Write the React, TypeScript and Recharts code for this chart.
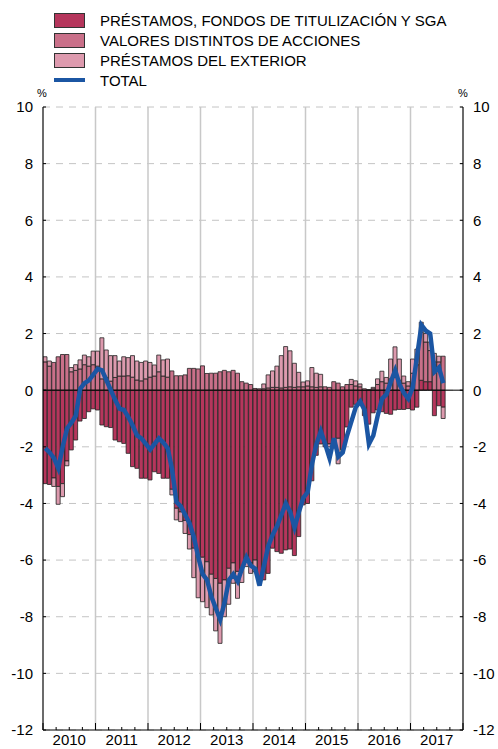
import React from 'react';
import {
  ComposedChart,
  Bar,
  Line,
  XAxis,
  YAxis,
  CartesianGrid,
  ReferenceLine
} from 'recharts';

// Tasas de variación interanual, enero 2010 - agosto 2017 (mensual)
const years = ['2010', '2011', '2012', '2013', '2014', '2015', '2016', '2017'];
const yTicks = [-12, -10, -8, -6, -4, -2, 0, 2, 4, 6, 8, 10];

const prestamos = [
  -3.3, -3.33, -3.1, -3.4, -3.3, -2.5, -2.11, -1.76, -1.09, -1.0, -0.76, -0.66,
  -0.7, -1.23, -1.29, -1.32, -1.76, -1.82, -1.88, -2.23, -2.7, -2.76, -3.11, -3.11,
  -3.17, -2.88, -2.94, -3.11, -3.11, -3.5, -4.17, -4.3, -4.6, -5.1, -5.58, -5.81,
  -5.9, -6.06, -6.5, -6.65, -6.82, -6.7, -6.29, -6.1, -6.4, -6.3, -5.9, -6.1,
  -6.0, -6.7, -6.7, -6.47, -5.58, -5.7, -5.76, -5.64, -5.61, -5.84, -5.17, -4.05,
  -4.0, -3.2, -2.3, -1.9, -2.0, -1.9, -1.8, -1.7, -2.1, -1.3, -0.6, -0.5,
  -0.4, -0.9, -1.2, -0.8, -0.7, -0.76, -0.82, -0.85, -0.7, -0.68, -0.68, -0.65,
  -0.7, -0.6, 0.35, 0.3, 0.3, -0.9, -0.55, -0.6
];

const valores = [
  1.0, 0.85, 0.98, 1.18, 1.26, 1.26, 0.65, 0.7, 0.75, 0.9, 0.85, 0.9,
  0.85, 0.4, 0.45, 0.32, 0.45, 0.5, 0.5, 0.51, 0.46, 0.36, 0.33, 0.4,
  0.46, 0.5, 0.65, 0.5, 0.46, 0.68, 0.51, 0.51, 0.54, 0.77, 0.77, 0.75,
  0.86, 0.59, 0.6, 0.6, 0.65, 0.7, 0.65, 0.7, 0.6, 0.3, 0.25, 0.2,
  0.06, 0.05, 0.05, 0.08, 0.1, 0.1, 0.08, 0.1, 0.12, 0.1, 0.12, 0.12,
  0.15, 0.12, 0.1, 0.12, 0.12, 0.1, 0.3, 0.25, 0.12, 0.2, 0.2, 0.15,
  0.12, 0.05, 0.02, 0.05, 0.2, 0.3, 0.25, 0.4, 0.45, 0.35, 0.25, 0.15,
  0.6, 0.9, 1.7, 1.4, 1.1, 1.0, 1.0, 1.2
];

const exterior = [
  0.18, 0.18, -0.3, -0.63, -0.46, -0.17, 0.15, 0.2, 0.32, 0.34, 0.33, 0.48,
  0.53, 1.45, 0.97, 0.9, 0.77, 0.53, 0.68, 0.64, 0.76, 0.67, 0.65, 0.63,
  0.52, 0.39, 0.59, 0.57, 0.64, -0.2, -0.41, -0.34, -0.46, -0.51, -1.04, -1.52,
  -1.57, -1.62, -1.44, -1.85, -2.12, -1.3, -1.27, -0.72, -0.95, -0.49, -0.33, -0.37,
  -0.41, -0.17, 0.17, 0.46, 0.58, 0.75, 1.14, 1.44, 1.27, 0.85, 0.51, 0.17,
  0.18, 0.68, 0.5, 0.44, 0, -0.1, -0.2, -0.9, 0, 0, 0.18, 0.18,
  0.1, 0, 0, 0.05, 0.2, 0.37, 0.2, 0.7, 1.08, 0.75, 0.25, 0.15,
  0.5, 0.55, 0.35, 0.3, 0.3, 0.3, 0.2, -0.4
];

const total = [
  -2.05, -2.2, -2.4, -2.76, -2.0, -1.35, -1.15, -0.9, 0.05, 0.25, 0.35, 0.55,
  0.75, 0.7, 0.35, 0.0, -0.35, -0.65, -0.7, -0.95, -1.25, -1.6, -1.7, -1.9,
  -2.1, -1.9, -1.7, -1.85, -2.05, -2.8, -3.95, -4.1, -4.4, -4.7, -5.2, -5.9,
  -6.5, -6.7, -7.3, -7.7, -8.1, -7.5, -6.7, -6.5, -6.75, -6.3, -5.9, -6.2,
  -6.3, -6.9, -6.2, -5.5, -5.1, -4.8, -4.4, -4.0, -4.3, -4.85, -4.3, -3.8,
  -3.6, -2.6, -1.9, -1.45, -1.9, -2.4, -1.7, -2.35, -2.2, -1.6, -1.1, -0.6,
  -0.4, -0.7, -1.9, -1.6, -0.9, -0.3, -0.15, 0.3, 0.7, 0.2, -0.1, -0.3,
  0.1, 1.2, 2.3, 2.1, 2.0, 0.65, 0.8, 0.25
];

const seriesKeys = ['prestamos', 'valores', 'exterior'];
const seriesNames = [
  'PRÉSTAMOS, FONDOS DE TITULIZACIÓN Y SGA',
  'VALORES DISTINTOS DE ACCIONES',
  'PRÉSTAMOS DEL EXTERIOR'
];
const seriesColors = ['#b5365c', '#c97089', '#dd9aae'];
const totalName = 'TOTAL';
const totalColor = '#1b56a3';

const nMonths = years.length * 12;
const quarterTicks = Array.from({ length: nMonths / 3 + 1 }, (_, i) => i * 3);
const yearTicks = Array.from({ length: years.length + 1 }, (_, i) => i * 12);

const data = total.map((t, i) => ({
  mes: i + 0.5,
  prestamos: prestamos[i],
  valores: valores[i],
  exterior: exterior[i],
  total: t
}));

// small inward tick every quarter, longer at year change, year label centred
const MonthTick = (props: any) => {
  const { x, y, payload } = props;
  const v = payload.value;
  const isYear = v % 12 === 0;
  const isMid = v % 12 === 6;
  return (
    <g>
      <line x1={x} x2={x} y1={y} y2={y - (isYear ? 7 : 3)} stroke="#000" strokeWidth={1} />
      {isMid && (
        <text x={x} y={y + 15} textAnchor="middle" fontSize={15} fill="#000">
          {years[(v - 6) / 12]}
        </text>
      )}
    </g>
  );
};

// dashed horizontal rules, plain vertical rules at each change of year
const hRule = (p: any) => (
  <line key={p.key} x1={p.x1} y1={p.y1} x2={p.x2} y2={p.y2} stroke="#c4c4c4" strokeDasharray="7 6" />
);
const vRule = (p: any) => (
  <line key={p.key} x1={p.x1} y1={p.y1} x2={p.x2} y2={p.y2} stroke="#c8c8c8" strokeWidth={1.5} />
);

const Swatch = ({ color }: { color: string }) => (
  <div
    style={{
      width: 29,
      height: 13,
      background: color,
      border: '1px solid #333'
    }}
  />
);

export default function App() {
  return (
    <div
      style={{
        position: 'absolute',
        left: 0,
        top: 0,
        width: 498,
        height: 749,
        background: '#fff',
        fontFamily: '"Liberation Sans", Arial, sans-serif',
        color: '#000'
      }}
    >
      <div style={{ position: 'absolute', left: 54, top: 10 }}>
        {seriesNames.map((name, i) => (
          <div key={name} style={{ display: 'flex', alignItems: 'center', height: 20 }}>
            <Swatch color={seriesColors[i]} />
            <span style={{ marginLeft: 15, fontSize: 15 }}>{name}</span>
          </div>
        ))}
        <div style={{ display: 'flex', alignItems: 'center', height: 20 }}>
          <div style={{ width: 31, height: 4, background: totalColor }} />
          <span style={{ marginLeft: 15, fontSize: 15 }}>{totalName}</span>
        </div>
      </div>

      <div style={{ position: 'absolute', left: 37, top: 87, fontSize: 11 }}>%</div>
      <div style={{ position: 'absolute', left: 458, top: 87, fontSize: 11 }}>%</div>

      <ComposedChart
        width={498}
        height={749}
        data={data}
        stackOffset="sign"
        barCategoryGap={0}
        barGap={0}
        margin={{ top: 107, right: 0, bottom: 0, left: 0 }}
      >
        <XAxis
          xAxisId="m"
          type="number"
          dataKey="mes"
          domain={[0, nMonths]}
          ticks={quarterTicks}
          interval={0}
          allowDataOverflow
          height={19}
          tickSize={0}
          tickMargin={0}
          tickLine={false}
          tick={MonthTick}
          axisLine={{ stroke: '#000' }}
        />
        <YAxis
          yAxisId="l"
          domain={[-12, 10]}
          ticks={yTicks}
          interval={0}
          allowDataOverflow
          width={43}
          tickSize={-3}
          tickMargin={13}
          axisLine={{ stroke: '#000' }}
          tickLine={{ stroke: '#000' }}
          tick={{ fill: '#000', fontSize: 15 }}
        />
        <YAxis
          yAxisId="r"
          orientation="right"
          domain={[-12, 10]}
          ticks={yTicks}
          interval={0}
          allowDataOverflow
          width={35}
          tickSize={-3}
          tickMargin={13}
          axisLine={{ stroke: '#000' }}
          tickLine={{ stroke: '#000' }}
          tick={{ fill: '#000', fontSize: 15 }}
        />
        <CartesianGrid
          xAxisId="m"
          yAxisId="l"
          horizontal={hRule}
          vertical={vRule}
          horizontalValues={yTicks}
          verticalValues={yearTicks}
        />
        {seriesKeys.map((k, i) => (
          <Bar
            key={k}
            xAxisId="m"
            yAxisId="l"
            dataKey={k}
            name={seriesNames[i]}
            stackId="a"
            fill={seriesColors[i]}
            stroke="#222"
            strokeWidth={0.8}
            isAnimationActive={false}
          />
        ))}
        <ReferenceLine xAxisId="m" yAxisId="l" y={0} stroke="#000" strokeWidth={1} />
        <Line
          xAxisId="m"
          yAxisId="l"
          dataKey="total"
          name={totalName}
          type="linear"
          stroke={totalColor}
          strokeWidth={4.5}
          dot={false}
          activeDot={false}
          isAnimationActive={false}
        />
      </ComposedChart>
    </div>
  );
}
